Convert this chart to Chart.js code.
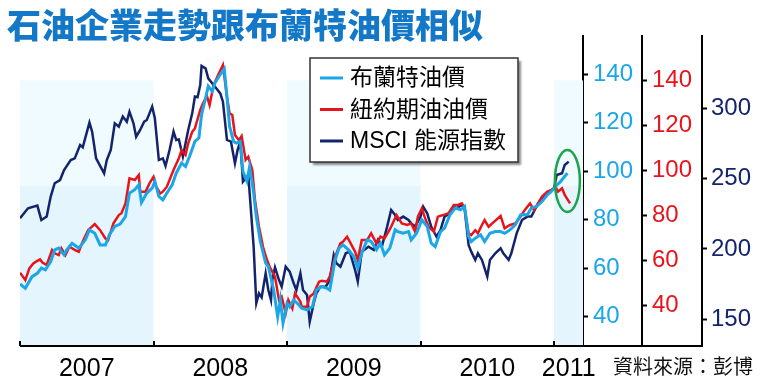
<!DOCTYPE html>
<html>
<head>
<meta charset="utf-8">
<script src="https://cdn.jsdelivr.net/npm/chart.js@4.4.0/dist/chart.umd.min.js"></script>
<style>
  body { margin: 0; background: #fff; }
  canvas { display: block; }
</style>
</head>
<body>
<canvas id="grafico" width="761" height="390"></canvas>
<script>
// Brent crude (US$/barrel), dates in fractional years
const brentDates = [
  2007.00, 2007.04, 2007.09, 2007.13, 2007.16, 2007.19, 2007.23, 2007.26, 2007.29, 2007.33, 2007.35, 2007.39, 2007.44, 2007.49,
  2007.52, 2007.56, 2007.60, 2007.64, 2007.67, 2007.71, 2007.75, 2007.79, 2007.82, 2007.86, 2007.89, 2007.91, 2007.95, 2007.99,
  2008.01, 2008.04, 2008.07, 2008.10, 2008.14, 2008.17, 2008.21, 2008.24, 2008.27, 2008.31, 2008.34, 2008.36, 2008.39, 2008.41,
  2008.44, 2008.46, 2008.50, 2008.53, 2008.55, 2008.57, 2008.60, 2008.62, 2008.65, 2008.67, 2008.70, 2008.72, 2008.75, 2008.77,
  2008.80, 2008.84, 2008.86, 2008.90, 2008.93, 2008.95, 2008.97,
  2009.00, 2009.02, 2009.05, 2009.09, 2009.11, 2009.15, 2009.19, 2009.22, 2009.26, 2009.30, 2009.32, 2009.36, 2009.39, 2009.42,
  2009.46, 2009.50, 2009.53, 2009.56, 2009.60, 2009.63, 2009.67, 2009.70, 2009.73, 2009.77, 2009.81, 2009.83, 2009.87, 2009.91,
  2009.93, 2009.97,
  2010.01, 2010.05, 2010.08, 2010.11, 2010.15, 2010.18, 2010.22, 2010.26, 2010.30, 2010.33, 2010.36, 2010.38, 2010.41, 2010.45,
  2010.48, 2010.52, 2010.56, 2010.60, 2010.63, 2010.67, 2010.71, 2010.75, 2010.80, 2010.83, 2010.87, 2010.91, 2010.95, 2010.98,
  2011.01, 2011.05, 2011.07, 2011.10
];
const brentPrices = [
  53.5, 51.7, 56.5, 57.9, 60.0, 59.3, 62.7, 67.6, 68.3, 65.5, 67.6, 70.3, 68.3, 71.7,
  75.8, 74.4, 69.6, 69.6, 73.8, 77.2, 78.2, 81.3, 91.0, 92.4, 94.4, 87.1, 91.0, 93.0,
  95.8, 89.6, 88.2, 91.0, 94.4, 99.2, 103.4, 102.0, 106.1, 112.3, 113.7, 123.3, 130.2, 135.1,
  133.0, 136.4, 139.9, 142.2, 130.9, 118.5, 112.3, 111.6, 112.3, 99.9, 95.8, 102.0, 91.0, 81.3,
  71.0, 62.1, 60.7, 51.0, 40.0, 46.9, 37.3,
  45.5, 44.1, 46.9, 44.8, 43.5, 42.8, 44.1, 51.0, 52.4, 51.7, 51.0, 63.4, 68.3, 69.6,
  67.6, 64.8, 60.0, 66.2, 71.7, 71.0, 67.6, 70.3, 65.5, 68.3, 75.8, 75.1, 74.4, 75.1,
  71.7, 74.4,
  80.0, 77.2, 70.3, 68.9, 75.1, 76.5, 82.0, 84.8, 84.1, 85.5, 73.1, 71.0, 72.4, 73.8,
  71.0, 74.4, 75.1, 75.1, 74.4, 75.8, 77.9, 82.0, 82.0, 84.8, 85.5, 87.5, 90.3, 91.7,
  93.7, 95.8, 97.2, 99.2
];

// NYMEX crude (US$/barrel)
const wtiDates = [
  2007.00, 2007.04, 2007.07, 2007.10, 2007.12, 2007.15, 2007.17, 2007.20, 2007.24, 2007.26, 2007.29, 2007.31, 2007.34, 2007.37,
  2007.41, 2007.44, 2007.47, 2007.51, 2007.56, 2007.60, 2007.64, 2007.66, 2007.70, 2007.74, 2007.76, 2007.79, 2007.82, 2007.86,
  2007.89, 2007.90, 2007.94, 2007.97,
  2008.00, 2008.02, 2008.05, 2008.07, 2008.10, 2008.15, 2008.19, 2008.21, 2008.24, 2008.26, 2008.29, 2008.31, 2008.35, 2008.37,
  2008.40, 2008.42, 2008.45, 2008.49, 2008.52, 2008.55, 2008.57, 2008.59, 2008.61, 2008.64, 2008.66, 2008.69, 2008.71, 2008.74,
  2008.76, 2008.79, 2008.82, 2008.85, 2008.87, 2008.91, 2008.94, 2008.96, 2008.99,
  2009.01, 2009.04, 2009.06, 2009.10, 2009.11, 2009.15, 2009.17, 2009.20, 2009.24, 2009.26, 2009.30, 2009.32, 2009.36, 2009.40,
  2009.42, 2009.45, 2009.47, 2009.51, 2009.53, 2009.56, 2009.60, 2009.63, 2009.67, 2009.70, 2009.73, 2009.76, 2009.78, 2009.82,
  2009.86, 2009.90, 2009.93, 2009.96, 2009.98,
  2010.01, 2010.03, 2010.06, 2010.10, 2010.13, 2010.17, 2010.21, 2010.25, 2010.28, 2010.31, 2010.33, 2010.36, 2010.38, 2010.41,
  2010.43, 2010.46, 2010.48, 2010.51, 2010.55, 2010.60, 2010.63, 2010.67, 2010.71, 2010.75, 2010.78, 2010.82, 2010.85, 2010.88,
  2010.91, 2010.95, 2010.98,
  2011.01, 2011.03, 2011.06, 2011.08, 2011.12
];
const wtiPrices = [
  54.7, 51.4, 56.6, 58.8, 59.6, 60.6, 59.1, 58.1, 64.8, 63.3, 62.5, 65.5, 62.5, 66.2,
  64.8, 64.0, 68.5, 73.6, 76.3, 73.6, 69.9, 69.2, 76.6, 80.3, 81.1, 85.5, 96.6, 95.9,
  98.1, 90.7, 90.7, 94.4,
  97.3, 92.9, 89.9, 90.7, 92.9, 100.3, 105.5, 109.2, 107.0, 112.2, 117.3, 118.8, 127.0, 129.9,
  133.2, 129.2, 138.1, 143.3, 147.0, 132.9, 125.5, 124.8, 115.9, 113.6, 115.4, 104.8, 106.2, 100.3,
  87.0, 75.1, 66.2, 60.3, 57.3, 52.9, 42.5, 44.0, 36.6,
  42.5, 38.8, 45.5, 41.8, 39.6, 39.6, 44.0, 45.5, 50.7, 51.1, 50.7, 52.9, 61.8, 67.7,
  68.5, 70.7, 68.5, 64.0, 60.3, 69.2, 69.2, 72.2, 67.7, 70.7, 69.9, 72.9, 75.1, 80.3,
  76.6, 75.9, 76.6, 72.9, 79.6,
  83.3, 79.6, 75.1, 72.9, 79.6, 80.3, 81.1, 84.8, 84.8, 85.5, 83.3, 72.2, 71.4, 73.6,
  72.2, 75.9, 78.1, 75.1, 77.3, 79.9, 74.4, 75.9, 76.6, 79.6, 82.5, 85.5, 82.5, 85.5,
  88.5, 90.7, 91.4,
  92.9, 90.7, 92.2, 89.2, 85.5
];

// MSCI energy index
const msciDates = [
  2007.00, 2007.06, 2007.13, 2007.16, 2007.20, 2007.23, 2007.26, 2007.30, 2007.33, 2007.38, 2007.41, 2007.45, 2007.47, 2007.52,
  2007.54, 2007.57, 2007.63, 2007.65, 2007.68, 2007.71, 2007.74, 2007.77, 2007.80, 2007.82, 2007.85, 2007.87, 2007.90, 2007.93,
  2007.95, 2007.99,
  2008.01, 2008.04, 2008.07, 2008.09, 2008.12, 2008.15, 2008.17, 2008.19, 2008.22, 2008.24, 2008.26, 2008.29, 2008.31, 2008.33,
  2008.35, 2008.36, 2008.39, 2008.41, 2008.45, 2008.47, 2008.50, 2008.52, 2008.55, 2008.58, 2008.61, 2008.63, 2008.65, 2008.67,
  2008.71, 2008.75, 2008.77, 2008.79, 2008.81, 2008.84, 2008.86, 2008.88, 2008.89, 2008.91, 2008.94, 2008.96, 2008.99,
  2009.02, 2009.05, 2009.07, 2009.10, 2009.12, 2009.15, 2009.17, 2009.20, 2009.22, 2009.25, 2009.29, 2009.32, 2009.35, 2009.37,
  2009.40, 2009.44, 2009.47, 2009.51, 2009.53, 2009.56, 2009.61, 2009.65, 2009.68, 2009.71, 2009.75, 2009.78, 2009.81, 2009.83,
  2009.87, 2009.91, 2009.93, 2009.96,
  2010.00, 2010.02, 2010.05, 2010.08, 2010.12, 2010.15, 2010.18, 2010.22, 2010.25, 2010.27, 2010.31, 2010.33, 2010.36, 2010.38,
  2010.41, 2010.43, 2010.46, 2010.50, 2010.52, 2010.56, 2010.60, 2010.62, 2010.66, 2010.68, 2010.72, 2010.76, 2010.80, 2010.83,
  2010.88, 2010.92, 2010.96,
  2011.00, 2011.02, 2011.06, 2011.08, 2011.11
];
const msciIndex = [
  221.8, 228.9, 230.8, 220.6, 223.0, 237.2, 246.7, 249.0, 256.1, 263.2, 264.4, 273.9, 272.3, 289.8,
  283.4, 264.4, 253.8, 263.2, 270.4, 289.3, 286.9, 294.1, 290.5, 297.6, 289.3, 279.8, 284.6, 290.5,
  291.7, 301.2,
  292.9, 263.2, 264.4, 259.0, 270.4, 283.4, 277.5, 277.9, 265.6, 275.1, 284.6, 296.4, 308.3, 307.8,
  316.6, 330.1, 328.4, 321.3, 316.6, 314.2, 310.6, 304.7, 277.5, 276.3, 260.9, 270.4, 276.3, 247.8,
  252.6, 201.6, 161.4, 168.5, 165.6, 182.7, 170.8, 163.7, 177.9, 186.9, 177.9, 173.2, 187.4,
  183.9, 175.6, 170.8, 182.7, 170.8, 167.3, 148.3, 161.4, 168.5, 173.2, 173.2, 177.9, 195.7, 189.8,
  187.4, 196.9, 198.1, 185.0, 176.8, 198.1, 201.6, 199.3, 206.4, 201.6, 215.9, 227.7, 224.1, 220.6,
  223.0, 220.6, 218.2, 215.9,
  223.0, 230.1, 225.3, 215.9, 208.7, 213.5, 223.0, 225.3, 230.1, 228.9, 231.3, 228.9, 202.8, 198.1,
  192.2, 196.9, 192.2, 180.3, 192.2, 196.9, 200.5, 196.9, 192.2, 196.9, 211.1, 220.6, 223.0, 223.0,
  232.4, 237.2, 240.7,
  243.1, 252.6, 253.8, 259.7, 262.1
];

// axes
const yearStarts = [2007, 2008, 2009, 2010, 2011];
const yearLabels = ['2007', '2008', '2009', '2010', '2011'];
const yearLabelAt = [2007.5, 2008.5, 2009.5, 2010.5, 2011.11];
const shadedYears = [2007, 2009, 2011];
const oilTicks = [40, 60, 80, 100, 120, 140];
const msciTicks = [150, 200, 250, 300];

const cyan = '#1ba6e8', red = '#e8141c', navy = '#14246c';

function ligar(datas, valores) {
    return datas.map((d, i) => ({ x: d, y: valores[i] }));
}

function eixoY(cor, min, max, lista, largura, pad) {
    return {
        type: 'linear', position: 'right', min: min, max: max,
        afterBuildTicks: s => { s.ticks = lista.map(v => ({ value: v })); },
        afterFit: s => { s.width = largura; },
        border: { display: true, color: '#000', width: 2 },
        grid: { display: true, drawOnChartArea: false, drawTicks: true, tickLength: 5, tickWidth: 2, tickColor: '#000' },
        ticks: { color: cor, padding: pad, font: { family: '"Liberation Sans", Arial, sans-serif', size: 24 } }
    };
}

// fundo, legenda, título e anotações
const enfeites = {
    id: 'enfeites',
    beforeDatasetsDraw(chart) {
        const { ctx, chartArea: a, scales } = chart;
        const x = scales.x, b = scales.brent;
        const topo = b.getPixelForValue(137.5), meio = b.getPixelForValue(94);
        ctx.save();
        shadedYears.forEach(ano => {
            const x1 = x.getPixelForValue(ano);
            const x2 = Math.min(x.getPixelForValue(ano + 1), a.right);
            ctx.fillStyle = '#effbfe';
            ctx.fillRect(x1, topo, x2 - x1, meio - topo);
            ctx.fillStyle = '#e4f5fd';
            ctx.fillRect(x1, meio, x2 - x1, a.bottom - meio);
        });
        ctx.restore();
    },
    afterDraw(chart) {
        const { ctx, chartArea: a, scales } = chart;
        const x = scales.x;
        ctx.save();

        // eixo x estendido até o último eixo
        ctx.strokeStyle = '#000';
        ctx.lineWidth = 2;
        ctx.beginPath();
        ctx.moveTo(a.left, a.bottom);
        ctx.lineTo(scales.msci.left + 1, a.bottom);
        ctx.stroke();
        yearStarts.forEach(ano => {
            const px = Math.round(x.getPixelForValue(ano));
            ctx.beginPath();
            ctx.moveTo(px, a.bottom);
            ctx.lineTo(px, a.bottom - 5);
            ctx.stroke();
        });

        // elipse verde
        ctx.strokeStyle = '#1ea24c';
        ctx.lineWidth = 2.5;
        ctx.beginPath();
        ctx.ellipse(x.getPixelForValue(2011.1), scales.brent.getPixelForValue(96), 12.5, 31, 0, 0, Math.PI * 2);
        ctx.stroke();

        // legenda
        const lx = 310, ly = 58, lw = 208, lh = 104;
        ctx.shadowColor = 'rgba(0,0,0,0.45)';
        ctx.shadowOffsetX = 3;
        ctx.shadowOffsetY = 3;
        ctx.shadowBlur = 2;
        ctx.fillStyle = '#fff';
        ctx.fillRect(lx, ly, lw, lh);
        ctx.shadowColor = 'transparent';
        ctx.strokeStyle = '#333';
        ctx.lineWidth = 1.5;
        ctx.strokeRect(lx, ly, lw, lh);
        ctx.font = '23px "Liberation Sans", "Noto Sans CJK TC", sans-serif';
        ctx.textBaseline = 'middle';
        chart.data.datasets.forEach((ds, i) => {
            const yy = 78 + i * 31.5;
            ctx.strokeStyle = ds.borderColor;
            ctx.lineWidth = 3;
            ctx.beginPath();
            ctx.moveTo(320, yy);
            ctx.lineTo(343, yy);
            ctx.stroke();
            ctx.fillStyle = '#000';
            ctx.fillText(ds.label, 350, yy + 1);
        });

        // título
        ctx.textBaseline = 'alphabetic';
        ctx.font = '900 34px "Noto Sans CJK TC", sans-serif';
        ctx.fillStyle = '#1478c8';
        ctx.fillText('石油企業走勢跟布蘭特油價相似', 7, 38);

        // fonte
        ctx.font = '20px "Noto Sans CJK TC", sans-serif';
        ctx.fillStyle = '#111';
        ctx.fillText('資料來源：彭博', 613, 374);
        ctx.restore();
    }
};

const grafico = new Chart(document.getElementById('grafico'), {
    type: 'line',
    data: {
        datasets: [
            { label: '布蘭特油價', data: ligar(brentDates, brentPrices), yAxisID: 'brent', borderColor: cyan, borderWidth: 3 },
            { label: '紐約期油油價', data: ligar(wtiDates, wtiPrices), yAxisID: 'wti', borderColor: red, borderWidth: 2.5 },
            { label: 'MSCI 能源指數', data: ligar(msciDates, msciIndex), yAxisID: 'msci', borderColor: navy, borderWidth: 2.5 }
        ]
    },
    options: {
        responsive: false,
        animation: false,
        elements: { point: { radius: 0 }, line: { tension: 0, fill: false } },
        layout: { padding: { left: 20, top: 36, right: 0, bottom: 0 } },
        plugins: { legend: { display: false }, title: { display: false }, tooltip: { enabled: false } },
        scales: {
            x: {
                type: 'linear', min: 2007, max: 2011.217,
                afterBuildTicks: s => { s.ticks = yearLabelAt.map(v => ({ value: v })); },
                afterFit: s => { s.height = 44; },
                border: { display: false },
                grid: { display: false, drawTicks: false },
                ticks: {
                    autoSkip: false, maxRotation: 0, padding: 8, color: '#000',
                    font: { family: '"Liberation Sans Narrow", "Liberation Sans", sans-serif', size: 25 },
                    callback: (v, i) => yearLabels[i]
                }
            },
            brent: eixoY(cyan, 27.9, 155.8, oilTicks, 59, 5),
            wti: eixoY(red, 22.1, 159.9, oilTicks, 60, 5),
            msci: eixoY(navy, 131, 351.4, msciTicks, 59, 4)
        }
    },
    plugins: [enfeites]
});
</script>
</body>
</html>
